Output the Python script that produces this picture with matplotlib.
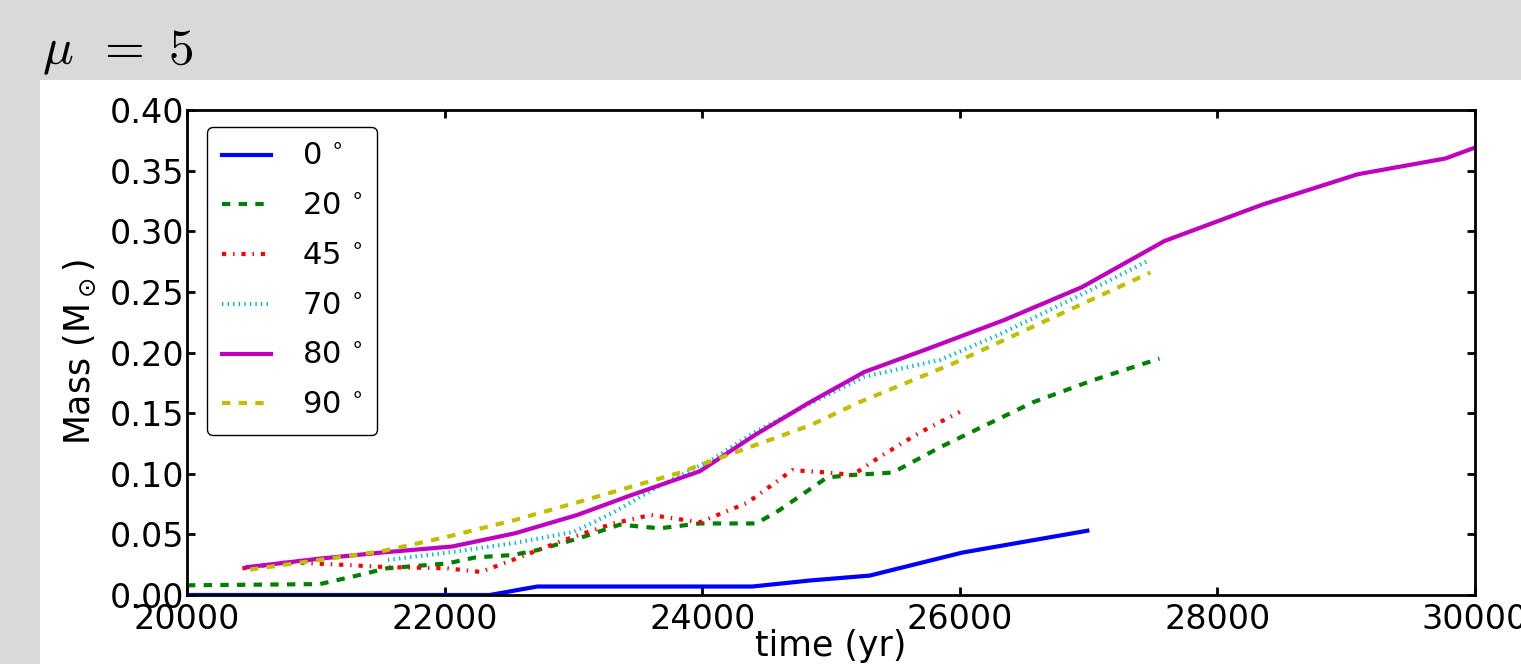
import matplotlib
matplotlib.use("Agg")
import matplotlib.pyplot as plt
from matplotlib.patches import Rectangle
from matplotlib.ticker import FormatStrFormatter

# old-style (unscaled) dash patterns
plt.rcParams['lines.scale_dashes'] = False

# data (time in yr, mass in Msun)
t_0 = [20000, 22350, 22720, 24390, 24840, 25300, 26020, 26990]
m_0 = [0.000, 0.000, 0.007, 0.007, 0.012, 0.016, 0.035, 0.053]

t_20 = [20000, 21030, 21280, 21550, 22020, 22240, 22530, 22720, 23050, 23360,
        23670, 23980, 24420, 24600, 24970, 25170, 25480, 25850, 26160, 26570,
        27030, 27550]
m_20 = [0.008, 0.009, 0.015, 0.022, 0.026, 0.031, 0.033, 0.037, 0.047, 0.058,
        0.055, 0.059, 0.059, 0.070, 0.097, 0.099, 0.101, 0.122, 0.138, 0.159,
        0.177, 0.195]

t_45 = [20430, 20780, 21190, 21550, 22020, 22280, 22530, 22920, 23310, 23600,
        23980, 24350, 24700, 24970, 25170, 25380, 25690, 26000]
m_45 = [0.022, 0.027, 0.025, 0.023, 0.022, 0.019, 0.029, 0.045, 0.059, 0.066,
        0.060, 0.076, 0.103, 0.101, 0.099, 0.114, 0.134, 0.151]

t_70 = [21560, 22030, 22550, 23000, 23310, 23650, 24080, 24420, 24840, 25260,
        25850, 26310, 26930, 27450]
m_70 = [0.029, 0.035, 0.043, 0.052, 0.068, 0.089, 0.112, 0.135, 0.158, 0.180,
        0.194, 0.215, 0.247, 0.275]

t_80 = [20470, 21030, 21510, 22060, 22550, 23030, 23440, 23980, 24410, 24820,
        25260, 25750, 26350, 26950, 27590, 28350, 29090, 29770, 30000]
m_80 = [0.023, 0.030, 0.035, 0.040, 0.051, 0.066, 0.082, 0.102, 0.132, 0.158,
        0.184, 0.203, 0.227, 0.254, 0.292, 0.322, 0.347, 0.360, 0.369]

t_90 = [20490, 21510, 22020, 22550, 23050, 23830, 23980, 24840, 25220, 25950,
        27480]
m_90 = [0.021, 0.036, 0.048, 0.062, 0.077, 0.101, 0.107, 0.140, 0.159, 0.191,
        0.266]

series = [
    (t_0, m_0, '0$\\,^\\circ$', '#0000ff', '-'),
    (t_20, m_20, '20$\\,^\\circ$', '#008000', (0, (6, 6))),
    (t_45, m_45, '45$\\,^\\circ$', '#ff0000', (0, (3, 5, 1, 5))),
    (t_70, m_70, '70$\\,^\\circ$', '#00bfbf', (0, (1, 3))),
    (t_80, m_80, '80$\\,^\\circ$', '#bf00bf', '-'),
    (t_90, m_90, '90$\\,^\\circ$', '#bfbf00', (0, (6, 6))),
]

W, H = 1521, 664
fig = plt.figure(figsize=(W / 100, H / 100), dpi=100, facecolor='#d9d9d9')
fig.patches.append(Rectangle((40 / W, 0), 1 - 40 / W, 1 - 80 / H,
                             transform=fig.transFigure, facecolor='white',
                             edgecolor='none', zorder=-5))
fig.text(42 / W, 1 - 64 / H, r'$\mu\ \,=\ 5$', math_fontfamily='cm',
         fontsize=37, ha='left', va='baseline')

ax = fig.add_axes([187 / W, 1 - 595 / H, (1475 - 187) / W, (595 - 110) / H])
ax.set_zorder(2)

for t, m, lab, col, ls in series:
    ax.plot(t, m, color=col, linestyle=ls, linewidth=3, label=lab)

ax.set_xlim(20000, 30000)
ax.set_ylim(0, 0.40)
ax.set_xticks(range(20000, 30001, 2000))
ax.set_yticks([i * 0.05 for i in range(9)])
ax.yaxis.set_major_formatter(FormatStrFormatter('%.2f'))

for s in ax.spines.values():
    s.set_linewidth(2)
ax.tick_params(direction='in', top=True, right=True, length=6, width=2,
               labelsize=24)
ax.tick_params(axis='x', pad=6)
ax.tick_params(axis='y', pad=2)

ax.set_xlabel('time (yr)', fontsize=25, labelpad=-5)
ax.set_ylabel(r'Mass (M$_\odot$)', fontsize=25, labelpad=8)

leg = ax.legend(loc='upper left', bbox_to_anchor=(0.0155, 0.965),
                borderaxespad=0, fontsize=22, handlelength=1.6,
                handletextpad=1.0, labelspacing=0.68, borderpad=0.5,
                fancybox=True, framealpha=1)
leg.get_frame().set_edgecolor('black')
leg.get_frame().set_linewidth(1)

fig.savefig('out.png', dpi=100, facecolor=fig.get_facecolor())
